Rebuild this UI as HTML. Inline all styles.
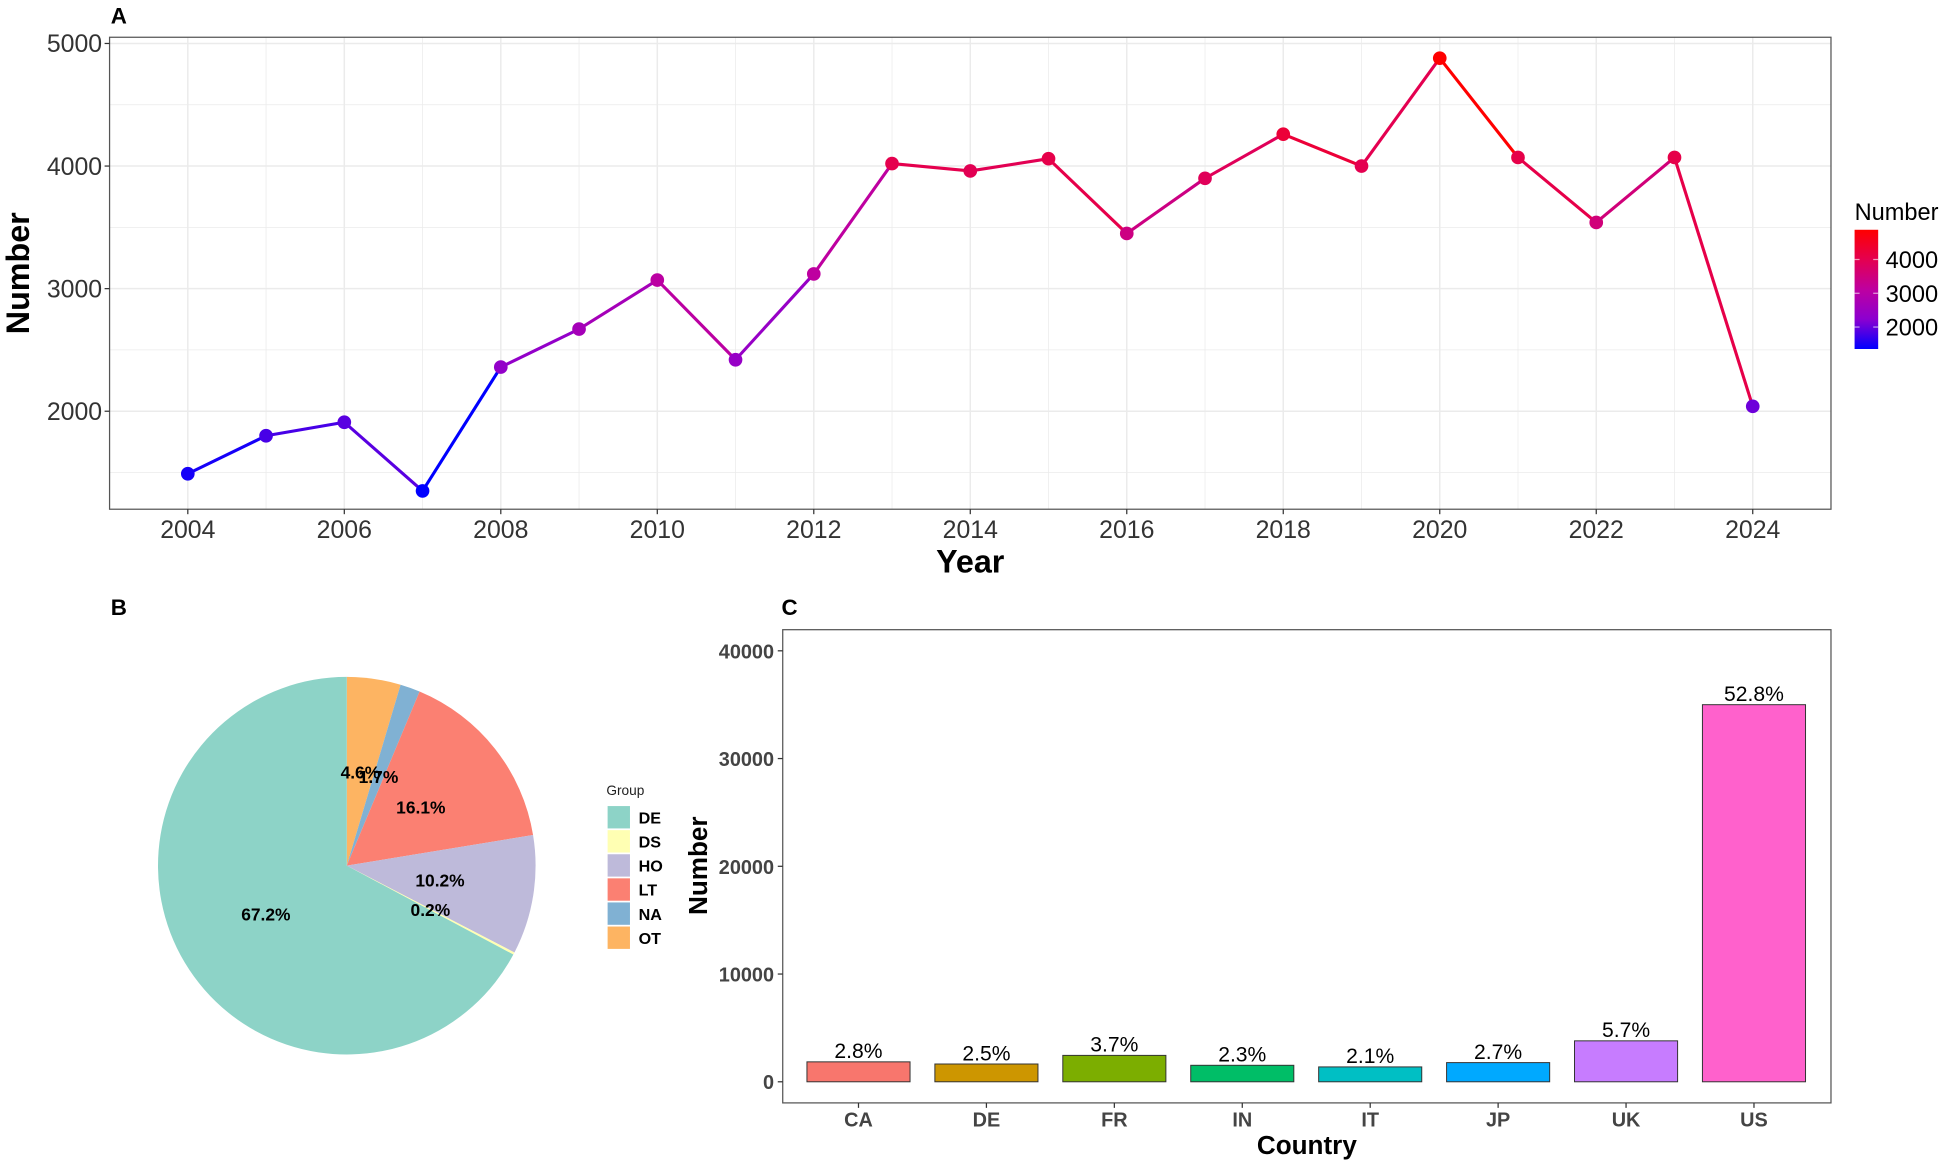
<!DOCTYPE html>
<html><head><meta charset="utf-8"><style>
html,body{margin:0;padding:0;background:#fff;}
svg{display:block;font-family:"Liberation Sans",Arial,sans-serif;}
</style></head><body>
<svg id="fig" width="1948" height="1165" viewBox="0 0 1568 938" xmlns="http://www.w3.org/2000/svg">
<rect width="1568" height="938" fill="#fff"/>
<g id="pa"></g>
<g id="pb"></g>
<g id="pc"></g>
</svg>
<script>
const years = [2004,2005,2006,2007,2008,2009,2010,2011,2012,2013,2014,2015,2016,2017,2018,2019,2020,2021,2022,2023,2024];
const counts = [1490,1800,1910,1350,2360,2670,3070,2420,3120,4020,3960,4060,3450,3900,4260,4000,4880,4070,3540,4070,2040];
const yTicksA = [2000,3000,4000,5000];
const xTicksA = [2004,2006,2008,2010,2012,2014,2016,2018,2020,2022,2024];
const legendTicks = [2000,3000,4000];

const groups = ["DE","DS","HO","LT","NA","OT"];
const groupPct = [67.2,0.2,10.2,16.1,1.7,4.6];
const groupColors = ["#8DD3C7","#FFFFB3","#BEBADA","#FB8072","#80B1D3","#FDB462"];

const countries = ["CA","DE","FR","IN","IT","JP","UK","US"];
const countryVals = [1850,1650,2450,1530,1380,1780,3800,35000];
const countryPct = ["2.8%","2.5%","3.7%","2.3%","2.1%","2.7%","5.7%","52.8%"];
const countryColors = ["#F8766D","#CD9600","#7CAE00","#00BE67","#00BFC4","#00A9FF","#C77CFF","#FF61CC"];
const yTicksC = [0,10000,20000,30000,40000];

const NS="http://www.w3.org/2000/svg";
function mk(p,tag,at,txt){const e=document.createElementNS(NS,tag);for(const k in at)e.setAttribute(k,at[k]);if(txt!==undefined)e.textContent=txt;p.appendChild(e);return e;}

// ---------- Panel A ----------
const A=document.getElementById('pa');
const ax0=88,ax1=1474,ay0=30,ay1=410;
const xA=v=>151+(v-2004)*63;
const yA=v=>35+(5000-v)*0.0987;
const cmin=Math.min(...counts),cmax=Math.max(...counts);
const stops=[[0,0,255],[140,0,208],[190,0,160],[228,0,80],[255,0,0]];
function col(v){let t=(v-cmin)/(cmax-cmin);t=Math.max(0,Math.min(1,t))*4;const i=Math.min(3,Math.floor(t));const f=t-i;const a=stops[i],b=stops[i+1];return `rgb(${Math.round(a[0]+(b[0]-a[0])*f)},${Math.round(a[1]+(b[1]-a[1])*f)},${Math.round(a[2]+(b[2]-a[2])*f)})`;}
let t;
t=mk(A,'text',{x:89,y:19,'font-size':18,'font-weight':'bold'},'A');

for(let v=1500;v<=5000;v+=500){const l=mk(A,'line',{x1:ax0,x2:ax1,y1:yA(v),y2:yA(v),stroke:'#ebebeb','stroke-width':v%1000?0.6:1.2});
}
for(const y of years){const l=mk(A,'line',{x1:xA(y),x2:xA(y),y1:ay0,y2:ay1,stroke:'#ebebeb','stroke-width':y%2?0.6:1.2});
}
t=mk(A,'rect',{x:ax0,y:ay0,width:ax1-ax0,height:ay1-ay0,fill:'none',stroke:'#555','stroke-width':1});

for(const v of yTicksA){mk(A,'line',{x1:ax0-4,x2:ax0,y1:yA(v),y2:yA(v),stroke:'#333'});
t=mk(A,'text',{x:ax0-6,y:yA(v)+7,'font-size':20,'text-anchor':'end',fill:'#333'},v);
}
for(const v of xTicksA){mk(A,'line',{x1:xA(v),x2:xA(v),y1:ay1,y2:ay1+4,stroke:'#333'});
t=mk(A,'text',{x:xA(v),y:433,'font-size':20,'text-anchor':'middle',fill:'#333'},v);
}
t=mk(A,'text',{x:781,y:461,'font-size':26,'font-weight':'bold','text-anchor':'middle'},'Year');

t=mk(A,'text',{x:23,y:220,'font-size':26,'font-weight':'bold','text-anchor':'middle',transform:'rotate(-90 23 220)'},'Number');

for(let i=0;i<years.length-1;i++){const l=mk(A,'line',{x1:xA(years[i]),y1:yA(counts[i]),x2:xA(years[i+1]),y2:yA(counts[i+1]),stroke:col(counts[i]),'stroke-width':2.5});
}
for(let i=0;i<years.length;i++){const c=mk(A,'circle',{cx:xA(years[i]),cy:yA(counts[i]),r:5.5,fill:col(counts[i])});
}
// colorbar legend
t=mk(A,'text',{x:1493,y:177,'font-size':19},'Number');

const grad=mk(A,'linearGradient',{id:'cg',x1:0,y1:1,x2:0,y2:0});
stops.forEach((s,i)=>mk(grad,'stop',{offset:i/4,'stop-color':`rgb(${s})`}));
const lb0=185,lb1=281;const yL=v=>lb1-(v-cmin)/(cmax-cmin)*(lb1-lb0);
t=mk(A,'rect',{x:1493,y:lb0,width:19,height:lb1-lb0,fill:'url(#cg)'});

for(const v of legendTicks){mk(A,'line',{x1:1493,x2:1497,y1:yL(v),y2:yL(v),stroke:'#fff','stroke-opacity':0.6});mk(A,'line',{x1:1508,x2:1512,y1:yL(v),y2:yL(v),stroke:'#fff','stroke-opacity':0.6});
t=mk(A,'text',{x:1518,y:yL(v)+7,'font-size':19},v);
}

// ---------- Panel B ----------
const B=document.getElementById('pb');
t=mk(B,'text',{x:89,y:495,'font-size':18,'font-weight':'bold'},'B');

const cx=279,cy=697,R=152;
let acc=0;const order=[5,4,3,2,1,0];
const pt=(f,r)=>[cx+r*Math.sin(f*2*Math.PI),cy-r*Math.cos(f*2*Math.PI)];
const tot=groupPct.reduce((a,b)=>a+b,0);
for(const i of order){const f0=acc/tot,f1=(acc+groupPct[i])/tot;const [x0,y0]=pt(f0,R),[x1,y1]=pt(f1,R);
const p=mk(B,'path',{d:`M${cx},${cy}L${x0},${y0}A${R},${R} 0 ${f1-f0>0.5?1:0} 1 ${x1},${y1}Z`,fill:groupColors[i]});

acc+=groupPct[i];}
acc=0;
for(const i of order){const fm=(acc+groupPct[i]/2)/tot;const [lx,ly]=pt(fm,R*0.5);
t=mk(B,'text',{x:lx,y:ly+5,'font-size':14,'font-weight':'bold','text-anchor':'middle'},groupPct[i].toFixed(1)+'%');
acc+=groupPct[i];}
t=mk(B,'text',{x:488,y:640,'font-size':11,fill:'#222'},'Group');

groups.forEach((g,i)=>{const y=649+i*19.4;
const r=mk(B,'rect',{x:489,y:y,width:18,height:18,fill:groupColors[i]});

t=mk(B,'text',{x:514,y:y+14,'font-size':13,'font-weight':'bold'},g);
});

// ---------- Panel C ----------
const C=document.getElementById('pc');
t=mk(C,'text',{x:629,y:495,'font-size':18,'font-weight':'bold'},'C');

const cx0=630,cx1=1474,cy0=507,cy1=888;
const yC=v=>871-v*0.008675;
const xC=i=>691+i*103;
t=mk(C,'rect',{x:cx0,y:cy0,width:cx1-cx0,height:cy1-cy0,fill:'none',stroke:'#555'});

for(const v of yTicksC){mk(C,'line',{x1:cx0-4,x2:cx0,y1:yC(v),y2:yC(v),stroke:'#333'});
t=mk(C,'text',{x:cx0-7,y:yC(v)+6,'font-size':16,'font-weight':'bold','text-anchor':'end',fill:'#444'},v);
}
countries.forEach((c,i)=>{const x=xC(i);
const r=mk(C,'rect',{x:x-41.5,y:yC(countryVals[i]),width:83,height:yC(0)-yC(countryVals[i]),fill:countryColors[i],stroke:'#333','stroke-width':0.8});

t=mk(C,'text',{x:x,y:yC(countryVals[i])-3,'font-size':17,'text-anchor':'middle'},countryPct[i]);

mk(C,'line',{x1:x,x2:x,y1:cy1,y2:cy1+4,stroke:'#333'});
t=mk(C,'text',{x:x,y:907,'font-size':16,'font-weight':'bold','text-anchor':'middle',fill:'#444'},c);
});
t=mk(C,'text',{x:1052,y:929,'font-size':21,'font-weight':'bold','text-anchor':'middle'},'Country');

t=mk(C,'text',{x:569,y:697,'font-size':21,'font-weight':'bold','text-anchor':'middle',transform:'rotate(-90 569 697)'},'Number');

</script>
</body></html>
